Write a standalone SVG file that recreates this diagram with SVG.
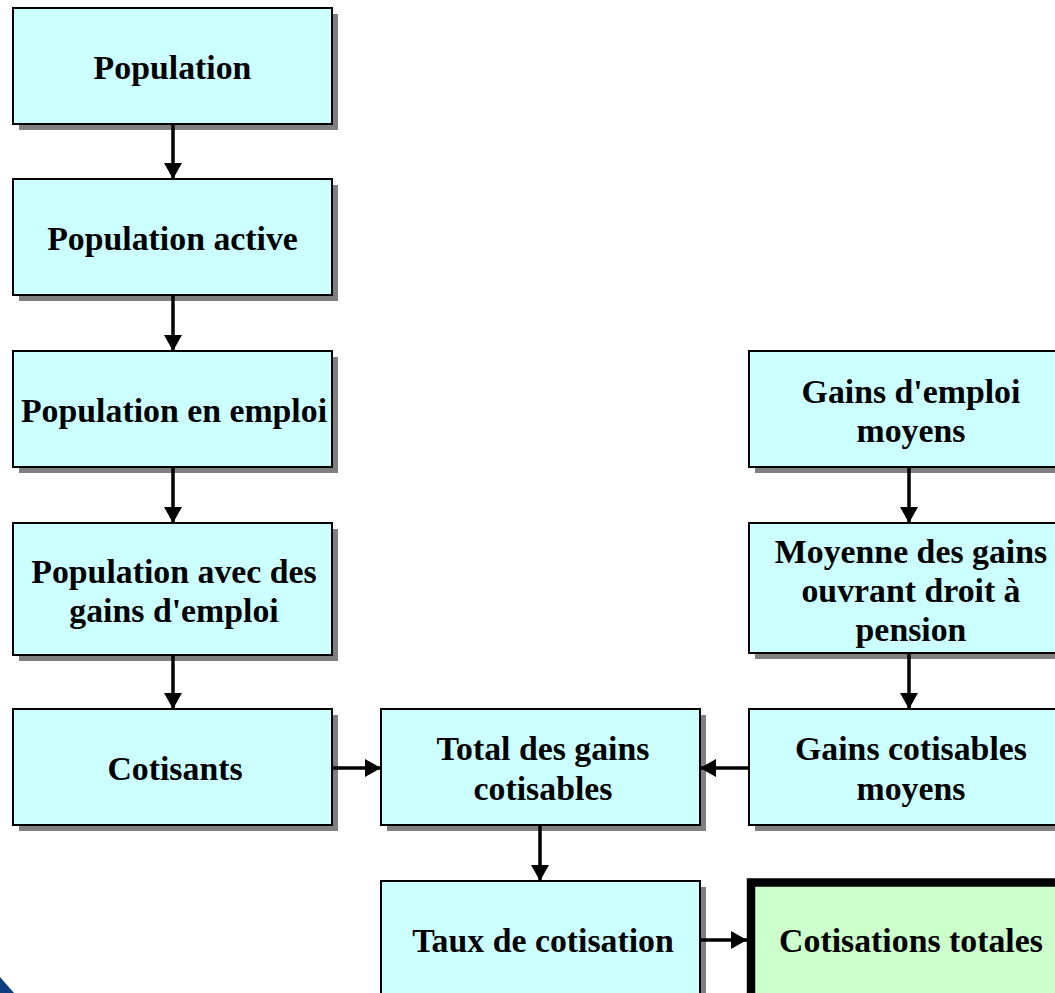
<svg xmlns="http://www.w3.org/2000/svg" width="1055" height="993" viewBox="0 0 1055 993">
  <style>
    .shadow { fill: #808080; }
    .box { fill: #CCFFFF; stroke: #000; stroke-width: 2; }
    .final { fill: #CCFFCC; stroke: #000; stroke-width: 8.5; }
    .lbl { font-family: "Liberation Serif", "Times New Roman", serif; font-weight: bold; font-size: 33.8px; fill: #000; text-anchor: middle; }
    .conn { stroke: #000; stroke-width: 3.5; fill: none; marker-end: url(#head); }
  </style>
  <defs>
    <marker id="head" markerUnits="userSpaceOnUse" markerWidth="16" markerHeight="18" viewBox="0 0 16 18" refX="16" refY="9" orient="auto">
      <path d="M0,0 L16,9 L0,18 Z" fill="#000"/>
    </marker>
  </defs>
  <rect width="1055" height="993" fill="#fff"/>

  <!-- corner ornament -->
  <polygon points="0,977 14,993 0,993" fill="#0d3f7f"/>

  <g id="population">
    <rect class="shadow" x="19" y="14" width="319" height="116"/>
    <rect class="box" x="13" y="8" width="319" height="116"/>
    <text class="lbl" x="172.5" y="79">Population</text>
  </g>
  <g id="population-active">
    <rect class="shadow" x="19" y="185" width="319" height="116"/>
    <rect class="box" x="13" y="179" width="319" height="116"/>
    <text class="lbl" x="172.5" y="250">Population active</text>
  </g>
  <g id="population-en-emploi">
    <rect class="shadow" x="19" y="357" width="319" height="116"/>
    <rect class="box" x="13" y="351" width="319" height="116"/>
    <text class="lbl" x="174" y="422">Population en emploi</text>
  </g>
  <g id="population-avec-gains">
    <rect class="shadow" x="19" y="529" width="319" height="132"/>
    <rect class="box" x="13" y="523" width="319" height="132"/>
    <text class="lbl" x="174" y="583">Population avec des</text>
    <text class="lbl" x="174" y="622">gains d'emploi</text>
  </g>
  <g id="cotisants">
    <rect class="shadow" x="19" y="715" width="319" height="116"/>
    <rect class="box" x="13" y="709" width="319" height="116"/>
    <text class="lbl" x="175" y="780">Cotisants</text>
  </g>
  <g id="total-gains">
    <rect class="shadow" x="387" y="715" width="319" height="116"/>
    <rect class="box" x="381" y="709" width="319" height="116"/>
    <text class="lbl" x="543" y="760">Total des gains</text>
    <text class="lbl" x="543" y="800">cotisables</text>
  </g>
  <g id="taux">
    <rect class="shadow" x="387" y="887" width="319" height="140"/>
    <rect class="box" x="381" y="881" width="319" height="140"/>
    <text class="lbl" x="543" y="952">Taux de cotisation</text>
  </g>
  <g id="gains-emploi-moyens">
    <rect class="shadow" x="755" y="357" width="319" height="116"/>
    <rect class="box" x="749" y="351" width="319" height="116"/>
    <text class="lbl" x="911" y="403">Gains d'emploi</text>
    <text class="lbl" x="911" y="442">moyens</text>
  </g>
  <g id="moyenne-gains-pension">
    <rect class="shadow" x="755" y="529" width="319" height="130"/>
    <rect class="box" x="749" y="523" width="319" height="130"/>
    <text class="lbl" x="911" y="563">Moyenne des gains</text>
    <text class="lbl" x="911" y="602">ouvrant droit à</text>
    <text class="lbl" x="911" y="641">pension</text>
  </g>
  <g id="gains-cotisables-moyens">
    <rect class="shadow" x="755" y="715" width="319" height="116"/>
    <rect class="box" x="749" y="709" width="319" height="116"/>
    <text class="lbl" x="911" y="760">Gains cotisables</text>
    <text class="lbl" x="911" y="800">moyens</text>
  </g>
  <g id="cotisations-totales">
    <rect class="final" x="751" y="882.5" width="320" height="200"/>
    <text class="lbl" x="911" y="952">Cotisations totales</text>
  </g>

  <g id="connectors">
    <line class="conn" x1="173" y1="124" x2="173" y2="179"/>
    <line class="conn" x1="173" y1="295" x2="173" y2="351"/>
    <line class="conn" x1="173" y1="467" x2="173" y2="523"/>
    <line class="conn" x1="173" y1="655" x2="173" y2="709"/>
    <line class="conn" x1="332" y1="768" x2="381" y2="768"/>
    <line class="conn" x1="749" y1="768" x2="700" y2="768"/>
    <line class="conn" x1="909" y1="467" x2="909" y2="523"/>
    <line class="conn" x1="909" y1="653" x2="909" y2="709"/>
    <line class="conn" x1="540" y1="825" x2="540" y2="881"/>
    <line class="conn" x1="700" y1="940" x2="747" y2="940"/>
  </g>
</svg>
